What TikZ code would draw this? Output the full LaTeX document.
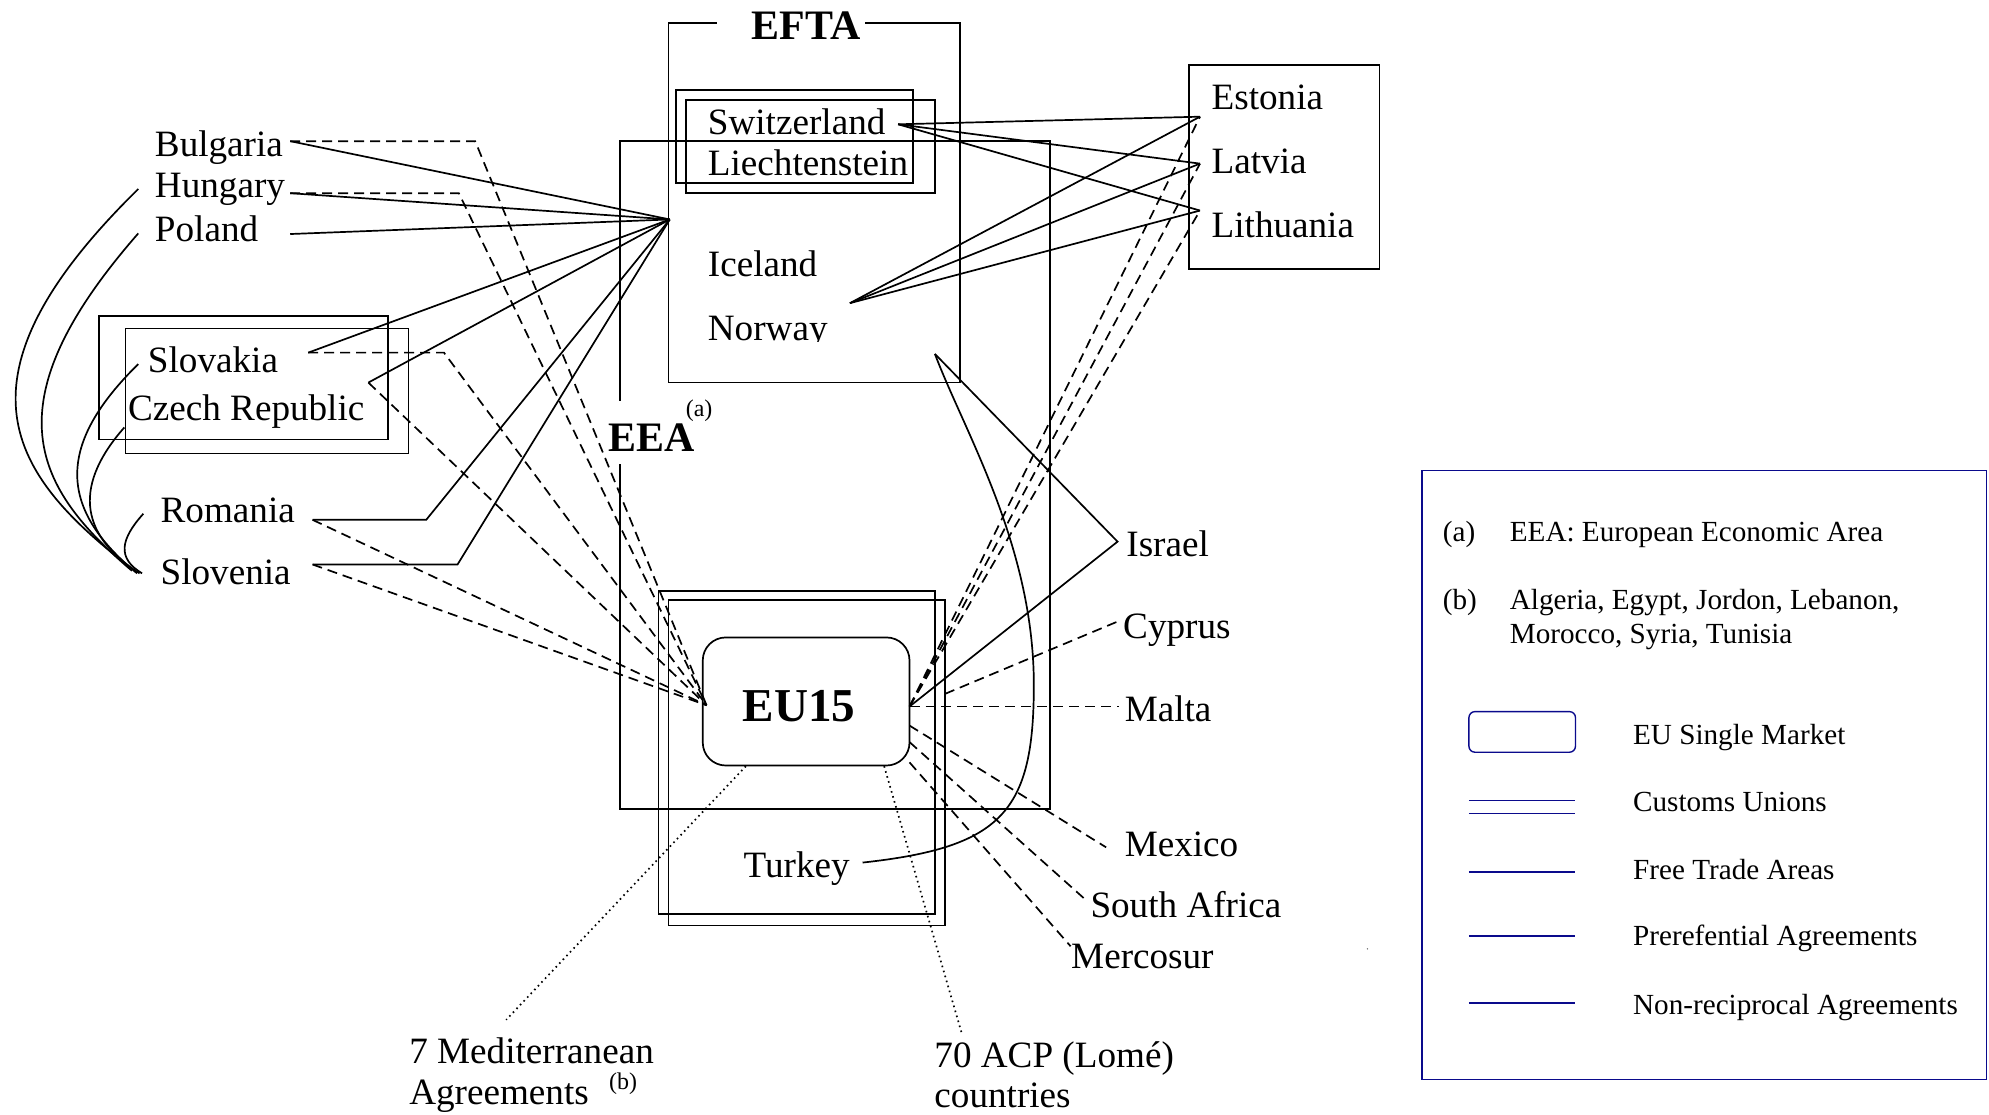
\documentclass[tikz,border=0pt]{standalone}
\usepackage{fontspec}
\setmainfont{Liberation Serif}
\definecolor{navy}{RGB}{10,10,140}
\begin{document}
\begin{tikzpicture}[x=0.635pt,y=-0.635pt, line width=0.85pt,
  lbl/.style={inner sep=0pt, anchor=base west, font=\fontsize{18.6}{22}\selectfont},
  ttl/.style={inner sep=0pt, anchor=base, font=\fontsize{21}{25}\selectfont\bfseries},
  ttlw/.style={inner sep=0pt, anchor=base west, font=\fontsize{21}{25}\selectfont\bfseries},
  leg/.style={inner sep=0pt, anchor=base west, font=\fontsize{14.6}{17}\selectfont},
  sup/.style={inner sep=0pt, anchor=base west, font=\fontsize{12}{14}\selectfont},
  dsh/.style={dash pattern=on 5pt off 3pt},
  dtt/.style={dash pattern=on 0.8pt off 1.8pt},
  legline/.style={navy, line width=0.7pt}
]
\useasboundingbox (0,0) rectangle (1568,879);

% ---------------- boxes ----------------
% EEA
\draw (489,316) -- (489,111) -- (828,111) -- (828,638) -- (489,638) -- (489,366);
% EFTA
\draw (565,18) -- (527,18) -- (527,301.5) -- (757,301.5) -- (757,18) -- (682,18);
\node[ttl] (efta) at (635.5,31) {EFTA};
% Switzerland / Liechtenstein customs union
\draw (533,71) rectangle (720,144);
\draw (541,79) rectangle (737,152);
% Slovakia / Czech customs union
\draw (78,249) rectangle (306,346.5);
\draw (99,259) rectangle (322,357.5);
% Baltic box
\draw (937.5,51.5) rectangle (1087.5,212);
% Turkey customs union
\draw (519,466) rectangle (737,720.5);
\draw (527,473) rectangle (745,729.5);
% EU15
\node[draw, rounded corners=11.5pt, minimum width=103.5pt, minimum height=64.1pt, inner sep=0pt] (eu) at (635.5,553) {};
\node[ttl, font=\fontsize{23.6}{28}\selectfont\bfseries] (eut) at (629.8,568.5) {EU15};

% ---------------- labels ----------------
\node[lbl] (bul) at (121.5,123) {Bulgaria};
\node[lbl] (hun) at (121.5,155.8) {Hungary};
\node[lbl] (pol) at (121.5,190) {Poland};
\node[lbl] (slk) at (116,293.5) {Slovakia};
\node[lbl] (cze) at (100.3,331.8) {Czech Republic};
\node[lbl] (rom) at (126,412) {Romania};
\node[lbl] (slo) at (126,461) {Slovenia};
\node[ttlw] (eea) at (479.3,356) {EEA};
\node[sup] (eeasup) at (540,328) {(a)};
\node[lbl] (swi) at (557.4,105.9) {Switzerland};
\node[lbl] (lie) at (557.4,138) {Liechtenstein};
\node[lbl] (ice) at (557.4,218) {Iceland};
\begin{scope}
\clip (540,230) rectangle (700,269.6);
\node[lbl] (nor) at (557.4,268.6) {Norway};
\end{scope}
\node[lbl] (est) at (954.5,86.2) {Estonia};
\node[lbl] (lat) at (954.5,136.6) {Latvia};
\node[lbl] (lit) at (954.5,187) {Lithuania};
\node[lbl] (tur) at (585.6,692) {Turkey};
\node[lbl] (isr) at (887.3,439) {Israel};
\node[lbl] (cyp) at (884.8,503.4) {Cyprus};
\node[lbl] (mal) at (886,569) {Malta};
\node[lbl] (mex) at (886,675) {Mexico};
\node[lbl] (saf) at (859,723) {South Africa};
\node[lbl] (mer) at (843.8,763.7) {Mercosur};
\node[lbl] (med1) at (322,838.4) {7 Mediterranean};
\node[lbl] (med2) at (322,871) {Agreements};
\node[sup] (medsup) at (479.5,858.5) {(b)};
\node[lbl] (acp1) at (736,841.5) {70 ACP (Lomé)};
\node[lbl] (acp2) at (736,873) {countries};

% ---------------- connector points ----------------
\coordinate (hubL) at (528,173);
\coordinate (bulR) at (228.8,111.3);
\coordinate (hunR) at (228.8,152.3);
\coordinate (polR) at (228.8,184.5);
\coordinate (slkR) at (243,278);
\coordinate (czR) at (290.4,301.6);
\coordinate (romR) at (246.4,409.8);
\coordinate (romB) at (336,409.8);
\coordinate (sloR) at (246.4,445);
\coordinate (sloB) at (360.7,445);
\coordinate (bulD) at (374.6,111.3);
\coordinate (hunD) at (361.7,152.3);
\coordinate (slkD) at (350,278);
\coordinate (euL) at (557,556);
\coordinate (euR) at (717,557);
\coordinate (euR2) at (717,572);
\coordinate (euR3) at (717,585);
\coordinate (euR4) at (717,601);
\coordinate (euB1) at (588,604);
\coordinate (euB2) at (697,604);
\coordinate (swR) at (708,98);
\coordinate (norR) at (670,239);
\coordinate (estL) at (946,92);
\coordinate (latL) at (946,129);
\coordinate (litL) at (946,166);
\coordinate (norC) at (737,279);
\coordinate (isrL) at (881,427);
\coordinate (turR) at (680,680);
\coordinate (cypL) at (881,490);
\coordinate (cypE) at (745,547);
\coordinate (malL) at (882,557);
\coordinate (mexL) at (872,668);
\coordinate (safL) at (856,709.5);
\coordinate (merL) at (844,746);
\coordinate (medT) at (399,804);
\coordinate (acpT) at (758,814);

% ---------------- free trade areas (solid) ----------------
\draw (bulR) -- (hubL);
\draw (hunR) -- (hubL);
\draw (polR) -- (hubL);
\draw (slkR) -- (hubL);
\draw (czR) -- (hubL);
\draw (romR) -- (romB) -- (hubL);
\draw (sloR) -- (sloB) -- (hubL);
\draw (swR) -- (estL);
\draw (swR) -- (latL);
\draw (swR) -- (litL);
\draw (norR) -- (estL);
\draw (norR) -- (latL);
\draw (norR) -- (litL);
\draw (norC) -- (isrL) -- (euR);
\draw (turR) .. controls (790,668) and (815,640) .. (815,540)
             .. controls (815,430) and (760,340) .. (norC);

% CEFTA curves
\draw (109,149) .. controls (-45,300) and (10,375) .. (101,446);
\draw (109,184) .. controls (-10,320) and (28,385) .. (104,450);
\draw (109,287) .. controls (45,350) and (45,400) .. (108,452);
\draw (98,337) .. controls (60,380) and (60,420) .. (110,452);
\draw (113,405) .. controls (95,425) and (92,440) .. (112,452);

% ---------------- preferential agreements (dashed) ----------------
\draw[dsh] (bulR) -- (bulD) -- (euL);
\draw[dsh] (hunR) -- (hunD) -- (euL);
\draw[dsh] (slkR) -- (slkD) -- (euL);
\draw[dsh] (czR) -- (euL);
\draw[dsh] (romR) -- (euL);
\draw[dsh] (sloR) -- (euL);
\draw[dsh] (euR) -- (estL);
\draw[dsh] (euR) -- (latL);
\draw[dsh] (euR) -- (litL);
\draw[dsh] (cypE) -- (cypL);
\draw[dsh] (euR) -- (malL);
\draw[dsh] (euR2) -- (mexL);
\draw[dsh] (euR3) -- (safL);
\draw[dsh] (euR4) -- (merL);

% ---------------- non-reciprocal (dotted) ----------------
\draw[dtt] (euB1) -- (medT);
\draw[dtt] (euB2) -- (acpT);

% stray dot
\fill[black!60] (1078,748) circle (0.6);

% ---------------- legend ----------------
\draw[navy, line width=0.8pt] (1121,371) rectangle (1566,851);
\node[leg] (la) at (1136.8,426.7) {(a)};
\node[leg] (lat1) at (1189.6,426.7) {EEA: European Economic Area};
\node[leg] (lb) at (1136.8,480.7) {(b)};
\node[leg] (lbt1) at (1189.6,480.7) {Algeria, Egypt, Jordon, Lebanon,};
\node[leg] (lbt2) at (1189.6,507) {Morocco, Syria, Tunisia};
\draw[legline, rounded corners=3pt] (1158,561) rectangle (1242,593);
\node[leg] (l1) at (1286.8,587) {EU Single Market};
\draw[legline] (1158,631) -- (1242,631);
\draw[legline] (1158,641.5) -- (1242,641.5);
\node[leg] (l2) at (1286.8,640) {Customs Unions};
\draw[legline] (1158,687.4) -- (1242,687.4);
\node[leg] (l3) at (1286.8,693.3) {Free Trade Areas};
\draw[legline, line width=1.1pt] (1158,738) -- (1242,738);
\node[leg] (l4) at (1286.8,745.6) {Prerefential Agreements};
\draw[legline] (1158,790.7) -- (1242,790.7);
\node[leg] (l5) at (1286.8,799.6) {Non-reciprocal Agreements};
\end{tikzpicture}
\end{document}
